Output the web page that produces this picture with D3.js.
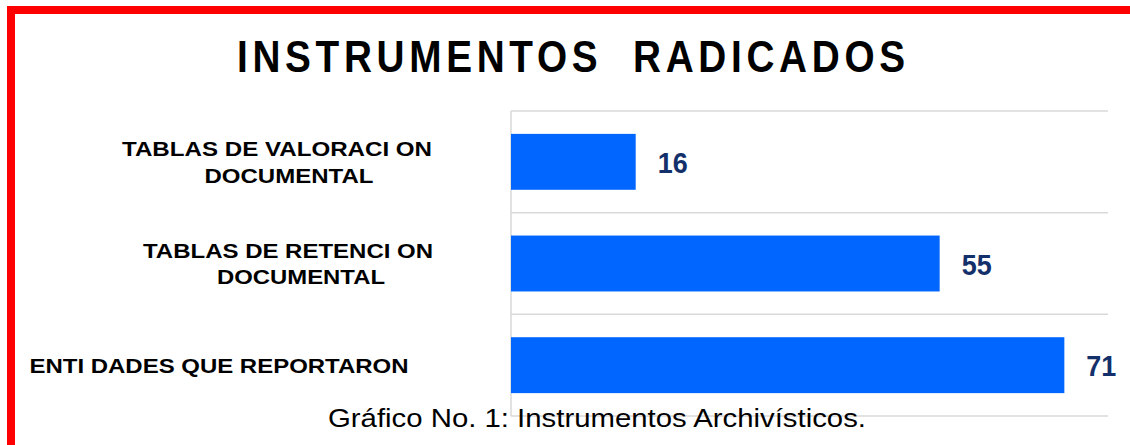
<!DOCTYPE html>
<html>
<head>
<meta charset="utf-8">
<script src="https://cdn.jsdelivr.net/npm/d3@7"></script>
<style>
  html, body { margin: 0; padding: 0; background: #fff; }
  svg { display: block; }
</style>
</head>
<body>
<svg id="chart" width="1130" height="445"></svg>
<script>
// ---- data ----
const title = "INSTRUMENTOS  RADICADOS";
const caption = "Gráfico No. 1: Instrumentos Archivísticos.";
const categories = [
  "TABLAS DE VALORACI ON DOCUMENTAL",
  "TABLAS DE RETENCI ON DOCUMENTAL",
  "ENTI DADES QUE REPORTARON"
];
const categoryLines = [
  ["TABLAS DE VALORACI ON", "DOCUMENTAL"],
  ["TABLAS DE RETENCI ON", "DOCUMENTAL"],
  ["ENTI DADES QUE REPORTARON"]
];
const values = [16, 55, 71];

// ---- layout (not data) ----
const W = 1130, H = 445;
const plot = { left: 511, right: 1108, top: 111, bottom: 416 };
const xMax = 76.6;
// per-line label placement: [centerX, width, baselineOffsetFromBandCenter]
const labelLayout = [
  [[277, 310, -6], [289, 169, 21]],
  [[288, 290, -6], [301, 168, 20]],
  [[219, 379, 8]]
];

const svg = d3.select("#chart");

const x = d3.scaleLinear().domain([0, xMax]).range([plot.left, plot.right]);
const y = d3.scaleBand().domain(categories).range([plot.top, plot.bottom])
  .paddingInner(0.45).paddingOuter(0.225);

// gridlines at band boundaries
const step = y.step();
const gridYs = d3.range(categories.length + 1).map(i => plot.top + i * step);
svg.append("g").selectAll("line").data(gridYs).join("line")
  .attr("x1", plot.left).attr("x2", plot.right)
  .attr("y1", d => d).attr("y2", d => d)
  .attr("stroke", "#d9d9d9").attr("stroke-width", 1.5);
svg.append("line")
  .attr("x1", plot.left).attr("x2", plot.left)
  .attr("y1", plot.top).attr("y2", plot.bottom)
  .attr("stroke", "#d9d9d9").attr("stroke-width", 1.5);

// bars
svg.append("g").selectAll("rect").data(values).join("rect")
  .attr("x", x(0))
  .attr("y", (d, i) => y(categories[i]))
  .attr("width", d => x(d) - x(0))
  .attr("height", y.bandwidth())
  .attr("fill", "#0066ff");

// value labels
svg.append("g").selectAll("text").data(values).join("text")
  .attr("x", d => x(d) + 22)
  .attr("y", (d, i) => y(categories[i]) + y.bandwidth() / 2 + 11)
  .attr("font-family", "'Liberation Sans', Arial, sans-serif")
  .attr("font-weight", "bold")
  .attr("font-size", 30)
  .attr("fill", "#13306a")
  .attr("textLength", 30)
  .attr("lengthAdjust", "spacingAndGlyphs")
  .text(d => d);

// category labels
categoryLines.forEach((lines, i) => {
  const cy = y(categories[i]) + y.bandwidth() / 2;
  lines.forEach((ln, j) => {
    const [cx, w, dy] = labelLayout[i][j];
    svg.append("text")
      .attr("x", cx - w / 2)
      .attr("y", cy + dy)
      .attr("font-family", "'Liberation Sans', Arial, sans-serif")
      .attr("font-weight", "bold")
      .attr("font-size", 20.5)
      .attr("fill", "#000")
      .attr("textLength", w)
      .attr("lengthAdjust", "spacingAndGlyphs")
      .text(ln);
  });
});

// title (narrower glyphs, wide letter spacing)
const titleScale = 0.88;
svg.append("text")
  .attr("transform", `translate(237,71.5) scale(${titleScale},1)`)
  .attr("x", 0).attr("y", 0)
  .attr("font-family", "'Liberation Sans', Arial, sans-serif")
  .attr("font-weight", "bold")
  .attr("font-size", 44)
  .attr("fill", "#000")
  .attr("textLength", 668 / titleScale)
  .attr("lengthAdjust", "spacing")
  .attr("xml:space", "preserve")
  .style("white-space", "pre")
  .text(title);

// caption
svg.append("text")
  .attr("x", 328).attr("y", 427)
  .attr("font-family", "'Liberation Sans', Arial, sans-serif")
  .attr("font-size", 26)
  .attr("fill", "#000")
  .attr("textLength", 538)
  .attr("lengthAdjust", "spacingAndGlyphs")
  .text(caption);

// red frame
svg.append("rect")
  .attr("x", 11).attr("y", 10)
  .attr("width", W + 20).attr("height", H)
  .attr("fill", "none")
  .attr("stroke", "#ff0000")
  .attr("stroke-width", 8);
</script>
</body>
</html>
